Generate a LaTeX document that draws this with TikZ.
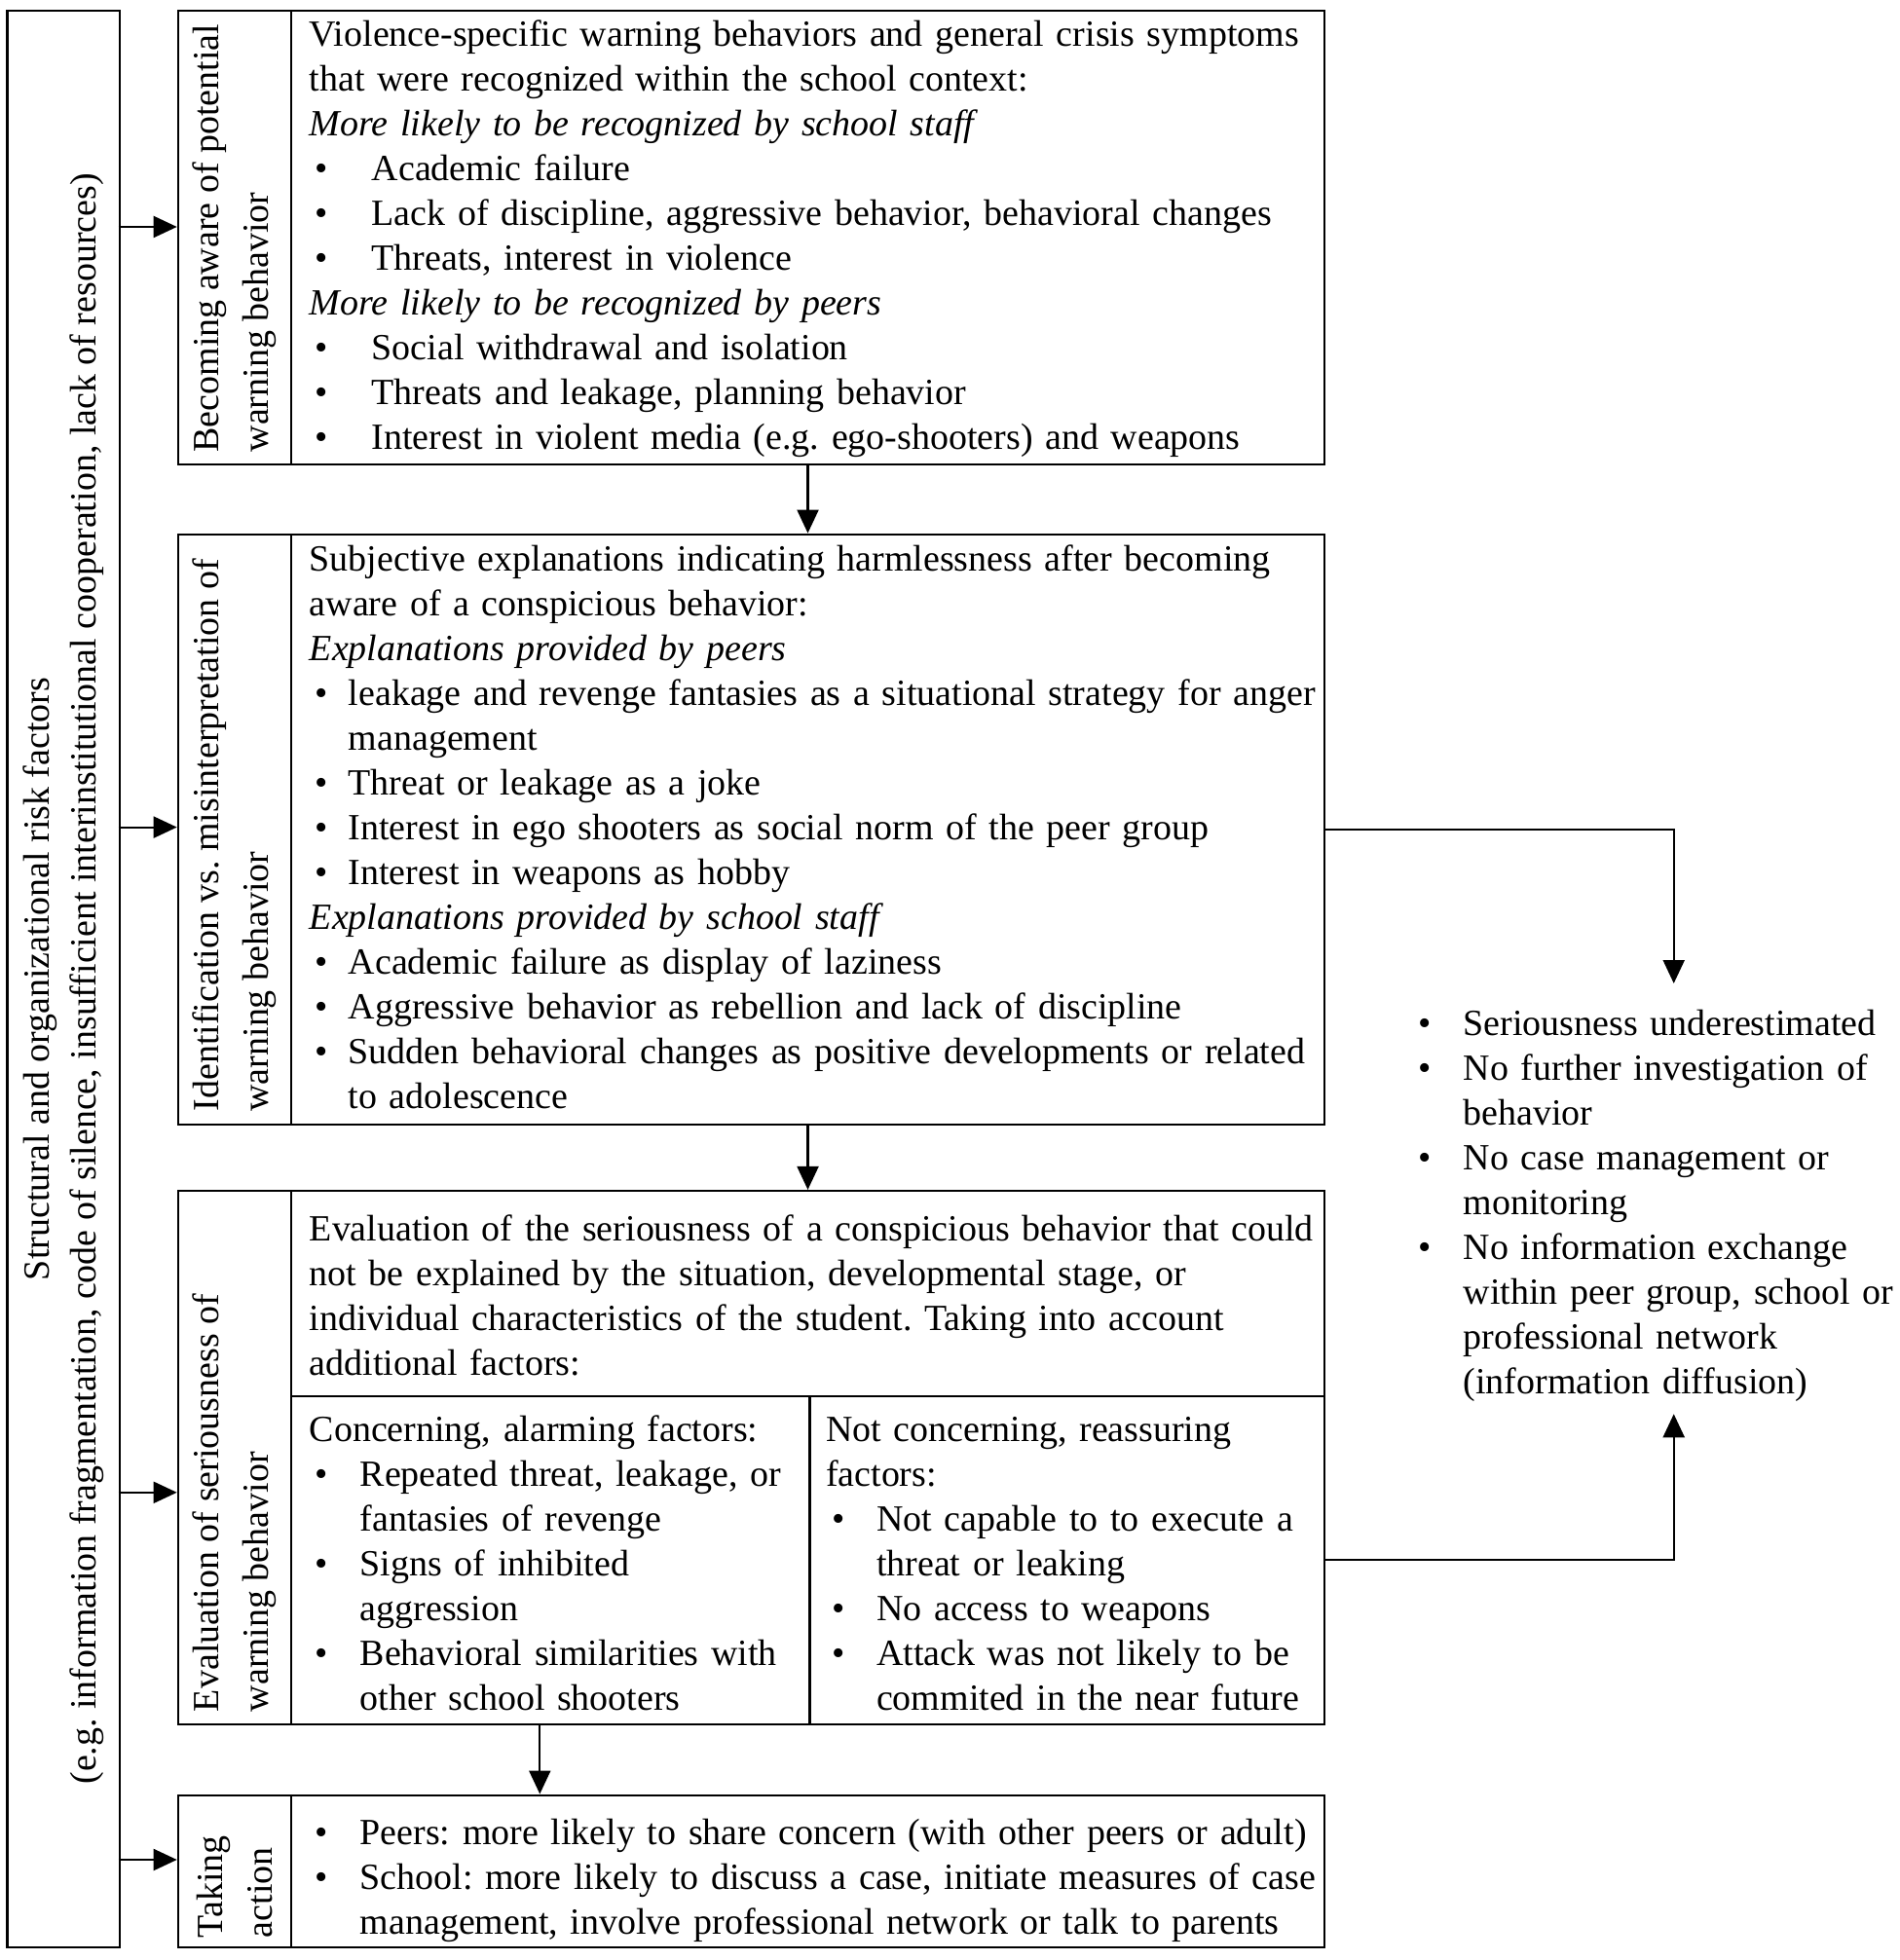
\documentclass[tikz,border=0pt]{standalone}
\usepackage{fontspec}
\setmainfont{Liberation Serif}
\usetikzlibrary{positioning, arrows.meta}
\setlength{\parindent}{0pt}
\frenchspacing

\newcommand{\bitem}[2][0.52cm]{\par\hangindent=#1\hangafter=1\noindent\makebox[#1][l]{\hspace{0.06cm}\textbullet\strut}#2}

\begin{document}
\begin{tikzpicture}
        % Define styles for shapes
        \tikzstyle{cell} = [draw, line width=0.6pt, anchor=north west, inner sep=0pt]
        \tikzstyle{txt} = [anchor=north west, inner sep=0pt, align=left, font=\fontsize{10.8}{13.09}\selectfont]
        \tikzstyle{lbl} = [rotate=90, anchor=west, inner sep=0pt, align=left, font=\fontsize{10.8}{14.5}\selectfont]
        \tikzstyle{arr} = [line width=0.6pt, -{Triangle[length=0.24cm, width=0.22cm]}]

        \useasboundingbox (0,0) rectangle (19.5,-20.13);

        % Draw shapes
        \node[cell, minimum width=1.152cm, minimum height=19.884cm] (outer) at (0.064,-0.102) {};
        \node[rotate=90, align=center, inner sep=0pt, font=\fontsize{10.8}{13.8}\selectfont] (outerT) at (outer.center) {Structural and organizational risk factors\\(e.g. information fragmentation, code of silence, insufficient interinstitutional cooperation, lack of resources)};

        \node[cell, minimum width=1.164cm, minimum height=4.658cm] (awareL) at (1.817,-0.102) {};
        \node[cell, minimum width=10.607cm, minimum height=4.658cm] (awareC) at (2.981,-0.102) {};
        \node[cell, minimum width=1.164cm, minimum height=6.064cm] (identL) at (1.817,-5.476) {};
        \node[cell, minimum width=10.607cm, minimum height=6.064cm] (identC) at (2.981,-5.476) {};
        \node[cell, minimum width=1.164cm, minimum height=5.477cm] (evalL) at (1.817,-12.219) {};
        \node[cell, minimum width=10.607cm, minimum height=2.111cm] (evalC) at (2.981,-12.219) {};
        \node[cell, minimum width=5.323cm, minimum height=3.366cm] (concern) at (2.981,-14.33) {};
        \node[cell, minimum width=5.284cm, minimum height=3.366cm] (reassure) at (8.304,-14.33) {};
        \node[cell, minimum width=1.164cm, minimum height=1.561cm] (actionL) at (1.817,-18.425) {};
        \node[cell, minimum width=10.607cm, minimum height=1.561cm] (actionC) at (2.981,-18.425) {};

        % Labels of the stages
        \node[lbl] (awareN) at ([yshift=0.13cm]awareL.south) {Becoming aware of potential\\warning behavior};
        \node[lbl] (identN) at ([yshift=0.14cm]identL.south) {Identification vs. misinterpretation of\\warning behavior};
        \node[lbl] (evalN) at ([yshift=0.13cm]evalL.south) {Evaluation of seriousness of\\warning behavior};
        \node[lbl] (actionN) at ([yshift=0.1cm]actionL.south) {Taking\\action};

        % Texts of the stages
        \node[txt, text width=10.5cm] (awareT) at ([xshift=0.19cm,yshift=-0.046cm]awareC.north west) {\strut Violence-specific warning behaviors and general crisis symptoms\newline that were recognized within the school context:
            \par\textit{More likely to be recognized by school staff}
            \bitem[0.64cm]{Academic failure}
            \bitem[0.64cm]{Lack of discipline, aggressive behavior, behavioral changes}
            \bitem[0.64cm]{Threats, interest in violence}
            \par\textit{More likely to be recognized by peers}
            \bitem[0.64cm]{Social withdrawal and isolation}
            \bitem[0.64cm]{Threats and leakage, planning behavior}
            \bitem[0.64cm]{Interest in violent media (e.g. ego-shooters) and weapons}\par};
        \node[txt, text width=10.5cm] (identT) at ([xshift=0.19cm,yshift=-0.057cm]identC.north west) {\strut Subjective explanations indicating harmlessness after becoming\newline aware of a conspicious behavior:
            \par\textit{Explanations provided by peers}
            \bitem[0.40cm]{leakage and revenge fantasies as a situational strategy for anger\newline management}
            \bitem[0.40cm]{Threat or leakage as a joke}
            \bitem[0.40cm]{Interest in ego shooters as social norm of the peer group}
            \bitem[0.40cm]{Interest in weapons as hobby}
            \par\textit{Explanations provided by school staff}
            \bitem[0.40cm]{Academic failure as display of laziness}
            \bitem[0.40cm]{Aggressive behavior as rebellion and lack of discipline}
            \bitem[0.40cm]{Sudden behavioral changes as positive developments or related\newline to adolescence}\par};
        \node[txt, text width=10.5cm] (evalT) at ([xshift=0.19cm,yshift=-0.2cm]evalC.north west) {\strut Evaluation of the seriousness of a conspicious behavior that could\newline not be explained by the situation, developmental stage, or\newline individual characteristics of the student. Taking into account\newline additional factors:\par};
        \node[txt, text width=5.6cm] (concernT) at ([xshift=0.19cm,yshift=-0.15cm]concern.north west) {\strut Concerning, alarming factors:
            \bitem{Repeated threat, leakage, or\newline fantasies of revenge}
            \bitem{Signs of inhibited\newline aggression}
            \bitem{Behavioral similarities with\newline other school shooters}\par};
        \node[txt, text width=5.6cm] (reassureT) at ([xshift=0.17cm,yshift=-0.15cm]reassure.north west) {\strut Not concerning, reassuring\newline factors:
            \bitem{Not capable to to execute a\newline threat or leaking}
            \bitem{No access to weapons}
            \bitem{Attack was not likely to be\newline commited in the near future}\par};
        \node[txt, text width=10.5cm] (actionT) at ([xshift=0.19cm,yshift=-0.055cm]actionC.north west) {\bitem{Peers: more likely to share concern (with other peers or adult)}
            \bitem{School: more likely to discuss a case, initiate measures of case\newline management, involve professional network or talk to parents}\par};

        % Outcome of a failed assessment
        \node[txt, inner xsep=0pt, inner ysep=0.065cm, text width=5.36cm] (outcome) at (14.50,-10.10) {\bitem{Seriousness underestimated}
            \bitem{No further investigation of\newline behavior}
            \bitem{No case management or\newline monitoring}
            \bitem{No information exchange\newline within peer group, school or\newline professional network\newline (information diffusion)\strut}\par};

        % Draw arrows
        \coordinate (o1) at (1.216,-2.33);
        \coordinate (o2) at (1.216,-8.496);
        \coordinate (o3) at (1.216,-15.328);
        \coordinate (o4) at (1.216,-19.10);
        \draw[arr] (o1) -- (o1 -| awareL.west);
        \draw[arr] (o2) -- (o2 -| identL.west);
        \draw[arr] (o3) -- (o3 -| evalL.west);
        \draw[arr] (o4) -- (o4 -| actionL.west);
        \draw[arr] (awareC.south) -- (identC.north);
        \draw[arr] (identC.south) -- (evalC.north);
        \draw[arr] ([xshift=-0.11cm]concern.south) -- ([xshift=-0.11cm]concern.south |- actionC.north);
        \draw[arr] (identC.east) -| (outcome.north);
        \draw[arr] (reassure.east) -| (outcome.south);
    \end{tikzpicture}
\end{document}
